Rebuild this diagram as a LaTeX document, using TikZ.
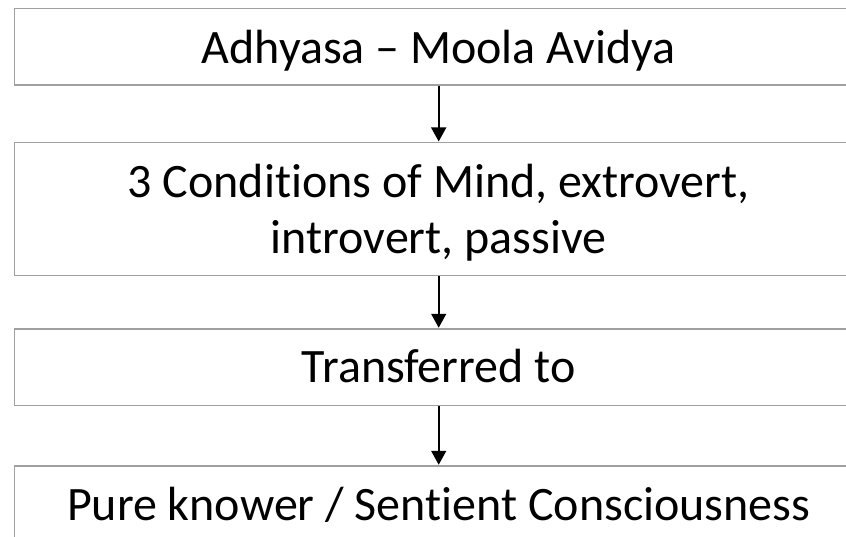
\documentclass[tikz,border=0pt]{standalone}
\usepackage{fontspec}
\setmainfont{Carlito}[Ligatures={NoCommon}]
\usetikzlibrary{arrows.meta,positioning}
\definecolor{boxline}{RGB}{160,160,160}
\tikzset{
  stepbox/.style={draw=boxline, line width=1.5pt, rectangle, inner sep=0pt,
    minimum width=848.8pt, fill=white},
  lbl/.style={font=\fontsize{48pt}{58pt}\selectfont, inner sep=0pt, anchor=base, align=center},
  flow/.style={draw=black, line width=1.6pt, -{Triangle[length=14pt,width=15pt]}, shorten >=0.5pt}
}
\begin{document}
\begin{tikzpicture}[x=1pt,y=-1pt]
  \useasboundingbox (0,0) rectangle (846,536);
  \clip (0,0) rectangle (846,536);
  % boxes
  \node[stepbox, minimum height=76.7pt] (b1) at (438.7,46.65) {};
  \node[stepbox, minimum height=133pt] (b2) at (438.7,209.2) {};
  \node[stepbox, minimum height=76.7pt] (b3) at (438.7,367.35) {};
  \node[stepbox, minimum height=77pt] (b4) at (438.7,504.5) {};
  % texts
  \node[lbl] (t1) at (438.7,63.3) {Adhyasa – Moola Avidya};
  \node[lbl] (t2a) at (438.7,197.3) {3 Conditions of Mind, extrovert,};
  \node[lbl] (t2b) at (438.7,253.3) {introvert, passive};
  \node[lbl] (t3) at (438.7,382.7) {Transferred to};
  \node[lbl] (t4) at (438.7,520) {Pure knower / Sentient Consciousness};
  % connectors
  \draw[flow] (b1.south) -- (b2.north);
  \draw[flow] (b2.south) -- (b3.north);
  \draw[flow] (b3.south) -- (b4.north);
\end{tikzpicture}
\end{document}
